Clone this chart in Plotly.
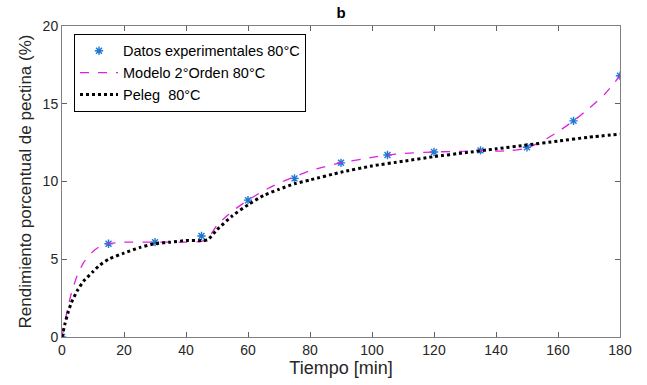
import plotly.graph_objects as go

# Experimental data
t_exp = [0, 15, 30, 45, 60, 75, 90, 105, 120, 135, 150, 165, 180]
y_exp = [0.0, 6.0, 6.1, 6.5, 8.8, 10.2, 11.2, 11.7, 11.9, 12.0, 12.2, 13.9, 16.8]

# Second-order model curve
t_mod = [0, 1, 2, 3, 5, 7, 10, 12, 15, 20, 30, 40, 45, 47, 50, 55, 60, 65, 70, 75, 80,
         90, 100, 105, 110, 120, 130, 135, 140, 145, 150, 155, 160, 165, 170, 175, 180]
y_mod = [0.0, 1.0, 2.0, 2.8, 4.0, 4.8, 5.5, 5.8, 6.0, 6.1, 6.1, 6.1, 6.15, 6.3, 7.2, 8.1, 8.8,
         9.4, 9.9, 10.3, 10.7, 11.2, 11.55, 11.7, 11.8, 11.9, 11.95, 12.0, 11.95, 12.0, 12.15,
         12.6, 13.2, 13.9, 14.7, 15.6, 16.8]

# Peleg model curve
t_pel = [0, 1, 2, 3, 5, 7, 10, 12, 15, 20, 25, 30, 35, 40, 45, 47, 50, 55, 60, 65, 70, 75,
         80, 90, 100, 110, 120, 130, 140, 150, 160, 170, 180]
y_pel = [0.0, 0.9, 1.6, 2.2, 3.0, 3.6, 4.2, 4.6, 5.0, 5.4, 5.75, 6.0, 6.1, 6.2, 6.2, 6.25,
         6.9, 7.8, 8.5, 9.1, 9.5, 9.85, 10.1, 10.6, 11.0, 11.3, 11.6, 11.85, 12.1, 12.35,
         12.6, 12.85, 13.05]

font_fam = "Liberation Sans, Arial, sans-serif"

fig = go.Figure()
fig.add_trace(go.Scatter(
    x=t_exp, y=y_exp, mode="markers", name="Datos experimentales 80°C",
    marker=dict(symbol="asterisk-open", size=7, color="#1f77d4",
                line=dict(color="#1f77d4", width=1.4)),
))
fig.add_trace(go.Scatter(
    x=t_mod, y=y_mod, mode="lines", name="Modelo 2°Orden 80°C",
    line=dict(color="#e020e0", width=1.3, dash="dash", shape="spline", smoothing=0.5),
))
fig.add_trace(go.Scatter(
    x=t_pel, y=y_pel, mode="lines", name="Peleg  80°C",
    line=dict(color="black", width=3, dash="dot", shape="spline", smoothing=0.5),
))

axis_common = dict(
    showline=True, linecolor="#808080", linewidth=1, mirror="ticks",
    ticks="inside", ticklen=5, tickcolor="#606060", showgrid=False, zeroline=False,
    tickfont=dict(family=font_fam, size=14, color="#262626"),
)

fig.update_layout(
    width=647, height=385,
    margin=dict(l=62, r=27, t=26, b=48),
    paper_bgcolor="white", plot_bgcolor="white",
    title=dict(text="<b>b</b>", x=341 / 647, xanchor="center", y=1 - 7 / 385, yanchor="top",
               font=dict(family=font_fam, size=15, color="black")),
    xaxis=dict(range=[0, 180], tickvals=list(range(0, 181, 20)),
               title=dict(text="Tiempo [min]", font=dict(family=font_fam, size=18, color="#262626"),
                          standoff=2),
               **axis_common),
    yaxis=dict(range=[0, 20], tickvals=[0, 5, 10, 15, 20],
               title=dict(text="Rendimiento porcentual de pectina (%)",
                          font=dict(family=font_fam, size=17, color="#262626"), standoff=6),
               **axis_common),
    legend=dict(x=0.0215, y=0.975, xanchor="left", yanchor="top",
                bordercolor="black", borderwidth=1, bgcolor="white",
                font=dict(family=font_fam, size=14.5, color="black"),
                tracegroupgap=0, itemwidth=38),
    showlegend=True,
)

fig.write_html("out.html")
